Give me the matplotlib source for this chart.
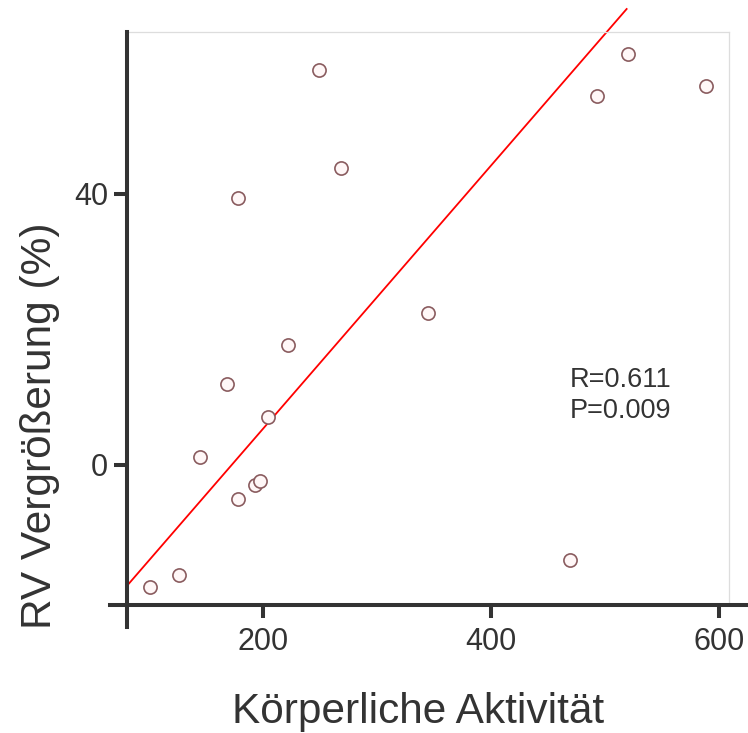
import matplotlib
matplotlib.use("Agg")
import matplotlib.pyplot as plt
from matplotlib.lines import Line2D
import numpy as np

plt.rcParams['font.family'] = ['Liberation Sans', 'DejaVu Sans']

# values
activity = [101, 126, 145, 168, 178, 178, 193, 197, 204, 222, 249, 268,
            345, 469, 493, 520, 589]
rv_growth = [-18.0, -16.2, 1.2, 12.0, 39.4, -5.0, -3.0, -2.4, 7.1, 17.7,
             58.3, 43.8, 22.4, -14.0, 54.5, 60.7, 55.9]
fit_x = [81, 519]
fit_y = [-17.8, 67.3]
r_value = 0.611
p_value = 0.009
x_ticks = [200, 400, 600]
y_ticks = [0, 40]

dark = '#333333'

fig = plt.figure(figsize=(7.48, 7.33), dpi=100)
ax = fig.add_axes([0.1698, 0.1746, 0.8048, 0.7817])

ax.scatter(activity, rv_growth, s=90, facecolor='#fff7f7',
           edgecolor='#8a5c5f', linewidth=1.2, zorder=3)
ax.plot(fit_x, fit_y, color='red', lw=1.3, clip_on=False, zorder=2)

ax.text(469, 10.2, f"R={r_value:.3f}\nP={p_value:.3f}", fontsize=19.5,
        color=dark, ha='left', va='center', linespacing=1.25)

ax.set_xlim(80.7, 608.8)
ax.set_ylim(-20.7, 63.9)
ax.set_xticks(x_ticks)
ax.set_yticks(y_ticks)

# light frame on top/right, heavy axis lines drawn separately
for side in ['top', 'right']:
    ax.spines[side].set_color('#dddddd')
    ax.spines[side].set_linewidth(0.9)
for side in ['left', 'bottom']:
    ax.spines[side].set_visible(False)

ax.add_line(Line2D([-0.028, 1.05], [0, 0], transform=ax.transAxes,
                   color=dark, lw=2.9, clip_on=False, zorder=5))
ax.add_line(Line2D([0, 0], [-0.038, 1.0], transform=ax.transAxes,
                   color=dark, lw=2.9, clip_on=False, zorder=5))

ax.tick_params(axis='both', direction='out', length=9.5, width=2.9,
               color=dark, labelcolor=dark, labelsize=22, pad=6)
ax.tick_params(axis='y', pad=4)

ax.set_xlabel("Körperliche Aktivität", fontsize=30.5, color=dark)
ax.set_ylabel("RV Vergrößerung (%)", fontsize=30.5, color=dark)
ax.xaxis.set_label_coords(0.483, -0.152)
ax.yaxis.set_label_coords(-0.112, 0.312)

fig.savefig("out.png", dpi=100)
